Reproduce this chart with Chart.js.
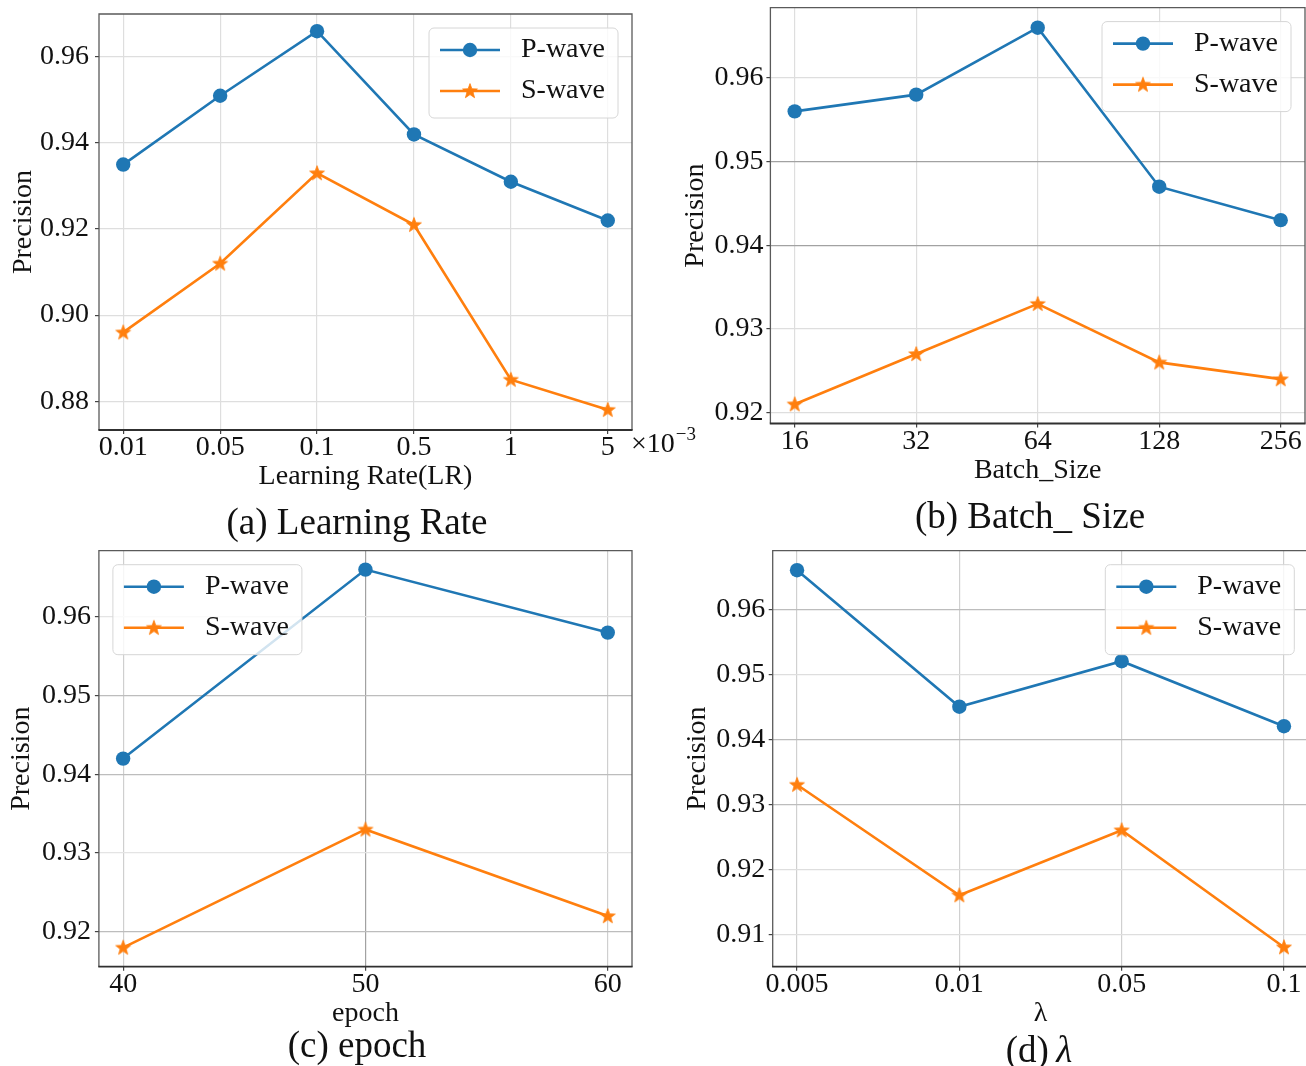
<!DOCTYPE html>
<html>
<head>
<meta charset="utf-8">
<script src="https://cdn.jsdelivr.net/npm/chart.js@4.4.1/dist/chart.umd.min.js"></script>
<style>
  html, body { margin: 0; padding: 0; background: #fff; overflow: hidden; }
  #fig { position: relative; width: 1306px; height: 1066px; overflow: hidden; background: #fff;
         font-family: 'Liberation Serif', 'Times New Roman', serif; color: #111; }
  #fig canvas { position: absolute; }
  .cap { position: absolute; font-size: 37px; line-height: 1; white-space: nowrap;
         transform: translate(-50%, -50%); }
  .cap i { font-style: italic; }
</style>
</head>
<body>
<div id="fig">
  <canvas id="cA" width="700" height="500" style="left:0px;top:0px"></canvas>
  <canvas id="cB" width="646" height="495" style="left:660px;top:0px"></canvas>
  <canvas id="cC" width="660" height="526" style="left:0px;top:540px"></canvas>
  <canvas id="cD" width="650" height="526" style="left:660px;top:540px"></canvas>
  <div class="cap" style="left:357px;top:521px">(a) Learning Rate</div>
  <div class="cap" style="left:1030px;top:515px">(b) Batch_ Size</div>
  <div class="cap" style="left:357px;top:1044px">(c) epoch</div>
  <div class="cap" style="left:1039px;top:1049px">(d)&thinsp;<i>λ</i></div>
</div>
<script>
// ---- data -------------------------------------------------------------
const seriesNames = ['P-wave', 'S-wave'];

const lrLabels = ['0.01', '0.05', '0.1', '0.5', '1', '5'];
const lrP      = [0.935, 0.951, 0.966, 0.942, 0.931, 0.922];
const lrS      = [0.896, 0.912, 0.933, 0.921, 0.885, 0.878];
const lrTicks  = [0.88, 0.90, 0.92, 0.94, 0.96];

const bsLabels = ['16', '32', '64', '128', '256'];
const bsP      = [0.956, 0.958, 0.966, 0.947, 0.943];
const bsS      = [0.921, 0.927, 0.933, 0.926, 0.924];
const bsTicks  = [0.92, 0.93, 0.94, 0.95, 0.96];

const epLabels = ['40', '50', '60'];
const epP      = [0.942, 0.966, 0.958];
const epS      = [0.918, 0.933, 0.922];
const epTicks  = [0.92, 0.93, 0.94, 0.95, 0.96];

const lamLabels = ['0.005', '0.01', '0.05', '0.1'];
const lamP      = [0.966, 0.945, 0.952, 0.942];
const lamS      = [0.933, 0.916, 0.926, 0.908];
const lamTicks  = [0.91, 0.92, 0.93, 0.94, 0.95, 0.96];

// ---- styling ------------------------------------------------------------
const FONT = "'Liberation Serif', 'Times New Roman', serif";
const BLUE = '#1f77b4';
const ORANGE = '#ff7f0e';
const TEXT = '#111';

Chart.defaults.animation = false;
Chart.defaults.font.family = FONT;
Chart.defaults.color = TEXT;

// filled five-pointed star used as the S-wave marker
function makeStar(color) {
  const c = document.createElement('canvas');
  c.width = 18; c.height = 18;
  const g = c.getContext('2d');
  const cx = 9, cy = 9.4, R = 7.8, r = 3.2;
  g.beginPath();
  for (let i = 0; i < 10; i++) {
    const rad = i % 2 === 0 ? R : r;
    const a = -Math.PI / 2 + i * Math.PI / 5;
    const x = cx + rad * Math.cos(a), y = cy + rad * Math.sin(a);
    i === 0 ? g.moveTo(x, y) : g.lineTo(x, y);
  }
  g.closePath();
  g.fillStyle = color;
  g.fill();
  g.lineWidth = 0.8;
  g.strokeStyle = color;
  g.stroke();
  return c;
}
const starImg = makeStar(ORANGE);

// axes frame (spines) plus the boxed legend in a chosen corner
const framePlugin = {
  id: 'frameLegend',
  afterDatasetsDraw(chart, args, opts) {
    const { ctx, chartArea: a } = chart;
    ctx.save();
    ctx.strokeStyle = '#5a5a5a';
    ctx.lineWidth = 1.3;
    ctx.beginPath();
    ctx.moveTo(a.left, a.bottom); ctx.lineTo(a.left, a.top);
    ctx.lineTo(a.right, a.top); ctx.lineTo(a.right, a.bottom);
    ctx.stroke();
    ctx.strokeStyle = '#303030';
    ctx.lineWidth = 1.8;
    ctx.beginPath();
    ctx.moveTo(a.left - 0.6, a.bottom); ctx.lineTo(a.right + 0.6, a.bottom);
    ctx.stroke();

    // legend
    const W = 189, H = 90, inset = 14;
    const x0 = opts.corner === 'nw' ? a.left + inset : a.right - inset - W;
    const y0 = a.top + inset;
    ctx.beginPath();
    ctx.roundRect(x0, y0, W, H, 5);
    ctx.fillStyle = 'rgba(255,255,255,0.8)';
    ctx.fill();
    ctx.strokeStyle = '#d6d6d6';
    ctx.lineWidth = 1;
    ctx.stroke();
    chart.data.datasets.forEach((ds, i) => {
      const y = y0 + 22 + i * 41;
      ctx.strokeStyle = ds.borderColor;
      ctx.lineWidth = ds.borderWidth;
      ctx.beginPath();
      ctx.moveTo(x0 + 11, y); ctx.lineTo(x0 + 71, y);
      ctx.stroke();
      if (ds.pointStyle === 'circle') {
        ctx.beginPath();
        ctx.arc(x0 + 41, y, ds.pointRadius, 0, Math.PI * 2);
        ctx.fillStyle = ds.pointBackgroundColor;
        ctx.fill();
      } else {
        ctx.drawImage(ds.pointStyle, x0 + 41 - ds.pointStyle.width / 2, y - ds.pointStyle.height / 2);
      }
      ctx.fillStyle = TEXT;
      ctx.font = '28px ' + FONT;
      ctx.textBaseline = 'middle';
      ctx.textAlign = 'left';
      ctx.fillText(ds.label, x0 + 92, y);
    });
    ctx.restore();
  }
};

// multiplier note after the last learning-rate tick
const expPlugin = {
  id: 'expNote',
  afterDraw(chart) {
    const { ctx, chartArea: a } = chart;
    ctx.save();
    ctx.fillStyle = TEXT;
    ctx.textBaseline = 'alphabetic';
    ctx.textAlign = 'left';
    ctx.font = '28px ' + FONT;
    const t = '\u00d710';
    ctx.fillText(t, a.right - 1, a.bottom + 22);
    const w = ctx.measureText(t).width;
    ctx.font = '19px ' + FONT;
    ctx.fillText('\u22123', a.right - 1 + w + 1, a.bottom + 9.5);
    ctx.restore();
  }
};

const keyOf = v => Math.round(v * 1000);

// scales get a fixed size and no extra edge room for labels
function fixBox(s, dim, size) {
  s[dim] = size;
  s.paddingTop = 0; s.paddingBottom = 0; s.paddingLeft = 0; s.paddingRight = 0;
}

function buildPanel(id, p) {
  const canvas = document.getElementById(id);
  const Hc = canvas.height;
  const pts = vals => vals.map((v, i) => ({ x: i, y: v }));
  return new Chart(canvas, {
    type: 'line',
    data: {
      datasets: [
        { label: seriesNames[0], data: pts(p.P), borderColor: BLUE, backgroundColor: BLUE,
          borderWidth: 2.6, pointStyle: 'circle', pointRadius: 7.2, pointBorderWidth: 0,
          pointBackgroundColor: BLUE, pointBorderColor: BLUE, tension: 0 },
        { label: seriesNames[1], data: pts(p.S), borderColor: ORANGE, backgroundColor: ORANGE,
          borderWidth: 2.6, pointStyle: starImg, pointRadius: 7,
          pointBackgroundColor: ORANGE, pointBorderColor: ORANGE, tension: 0 }
      ]
    },
    options: {
      responsive: false,
      events: [],
      clip: false,
      layout: { autoPadding: false, padding: { left: 0, bottom: 0, top: p.top, right: p.right } },
      plugins: {
        legend: { display: false },
        tooltip: { enabled: false },
        frameLegend: { corner: p.corner }
      },
      scales: {
        x: {
          type: 'linear',
          min: -0.05 * (p.labels.length - 1),
          max: (p.labels.length - 1) * 1.05,
          afterFit: s => fixBox(s, 'height', Hc - p.bottom),
          afterBuildTicks: s => { s.ticks = p.labels.map((_, i) => ({ value: i })); },
          ticks: {
            autoSkip: false, maxRotation: 0, padding: p.xTickPad, color: TEXT,
            font: { size: 28, family: FONT },
            callback: v => p.labels[v]
          },
          grid: {
            color: ctx => p.xGrid(ctx.tick ? ctx.tick.value : -1),
            lineWidth: 1.2, drawTicks: true, tickLength: 4,
            tickColor: '#444', tickWidth: 1.2
          },
          border: { display: false },
          title: { display: true, text: p.xTitle, color: TEXT,
                   font: { size: 28, family: FONT }, padding: { top: 0, bottom: p.xTitlePad } }
        },
        y: {
          type: 'linear',
          min: p.yMin, max: p.yMax,
          afterFit: s => fixBox(s, 'width', p.left),
          afterBuildTicks: s => { s.ticks = p.yTicks.map(v => ({ value: v })); },
          ticks: {
            padding: p.yTickPad, color: TEXT,
            font: { size: 28, family: FONT },
            callback: v => v.toFixed(2)
          },
          grid: {
            color: ctx => p.yGrid(ctx.tick ? keyOf(ctx.tick.value) : -1),
            lineWidth: 1.2, drawTicks: true, tickLength: 4,
            tickColor: '#444', tickWidth: 1.2
          },
          border: { display: false },
          title: { display: true, text: 'Precision', color: TEXT,
                   font: { size: 28, family: FONT }, padding: { top: p.yTitlePad, bottom: 0 } }
        }
      }
    },
    plugins: p.extra ? [framePlugin, p.extra] : [framePlugin]
  });
}

const LIGHT = '#dedede', MID = '#bdbdbd', DARK = '#a2a2a2';

buildPanel('cA', {
  labels: lrLabels, P: lrP, S: lrS, yTicks: lrTicks, yMin: 0.8733, yMax: 0.9700,
  xTitle: 'Learning Rate(LR)', corner: 'ne',
  left: 99, right: 68, top: 14, bottom: 430,
  xTickPad: -3, yTickPad: 6, xTitlePad: 6.7, yTitlePad: 6.7,
  xGrid: () => LIGHT, yGrid: () => LIGHT, extra: expPlugin
});

buildPanel('cB', {
  labels: bsLabels, P: bsP, S: bsS, yTicks: bsTicks, yMin: 0.9187, yMax: 0.9684,
  xTitle: 'Batch_Size', corner: 'ne',
  left: 110.4, right: 1, top: 7.6, bottom: 423.5,
  xTickPad: -3, yTickPad: 3, xTitlePad: 7.2, yTitlePad: 19.2,
  xGrid: () => LIGHT, yGrid: k => (k === 950 || k === 940) ? DARK : LIGHT
});

buildPanel('cC', {
  labels: epLabels, P: epP, S: epS, yTicks: epTicks, yMin: 0.91557, yMax: 0.9684,
  xTitle: 'epoch', corner: 'nw',
  left: 98.9, right: 28, top: 10.7, bottom: 426.7,
  xTickPad: -2.5, yTickPad: 4, xTitlePad: 35.7, yTitlePad: 5.2,
  xGrid: v => v === 1 ? DARK : '#cfcfcf',
  yGrid: k => (k === 950 || k === 940 || k === 920) ? MID : '#e4e4e4'
});

buildPanel('cD', {
  labels: lamLabels, P: lamP, S: lamS, yTicks: lamTicks, yMin: 0.905, yMax: 0.9690,
  xTitle: 'λ', corner: 'ne',
  left: 112.7, right: 1.7, top: 10.7, bottom: 426.7,
  xTickPad: -2.5, yTickPad: 3.5, xTitlePad: 35.7, yTitlePad: 20.9,
  xGrid: () => '#d0d0d0',
  yGrid: k => (k === 960 || k === 940 || k === 930) ? MID : LIGHT
});
</script>
</body>
</html>
